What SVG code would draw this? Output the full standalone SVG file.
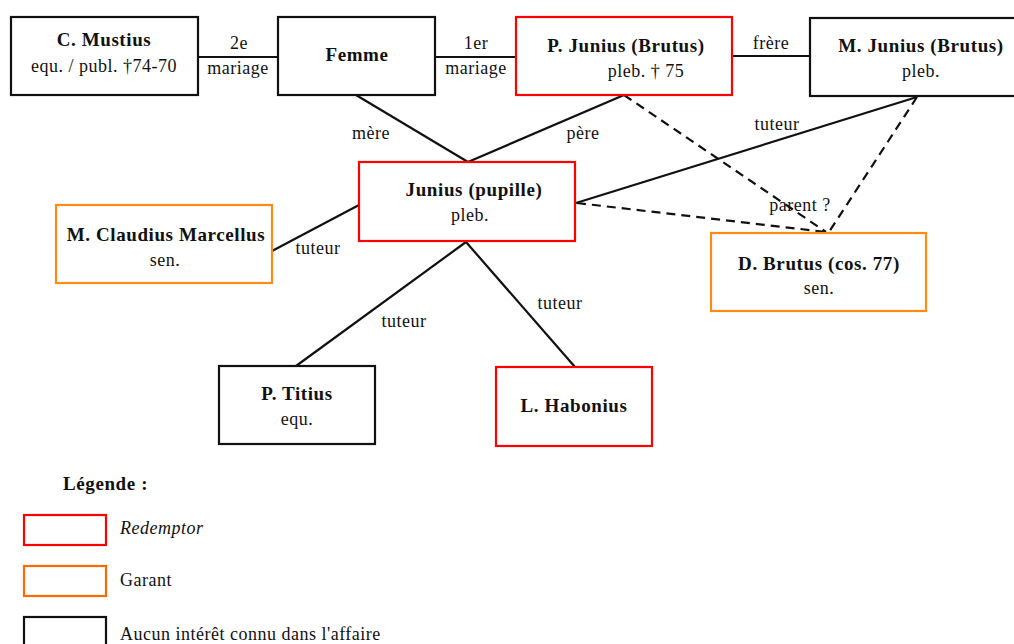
<svg xmlns="http://www.w3.org/2000/svg" width="1014" height="644" viewBox="0 0 1014 644">
<style>
text{font-family:"Liberation Serif","DejaVu Serif",serif;fill:#111;font-size:18px;letter-spacing:0.5px;text-anchor:middle}
.b{font-weight:bold;font-size:19px;letter-spacing:0.6px}
.box{fill:#fff;stroke-width:2.2}
.k{stroke:#111}.r{stroke:#ff0000}.o{stroke:#ff8a14}.lo{stroke:#ff6a00}
.ln{stroke:#111;stroke-width:2.2;fill:none}
.d{stroke-dasharray:9 6}
.st{text-anchor:start}
</style>
<rect width="1014" height="644" fill="#fff"/>
<g id="connectors">
<line class="ln" x1="198" y1="57" x2="278" y2="57"/>
<line class="ln" x1="435" y1="57" x2="516" y2="57"/>
<line class="ln" x1="732" y1="56" x2="810" y2="56"/>
<line class="ln" x1="356" y1="95" x2="468" y2="162"/>
<line class="ln" x1="624" y1="95" x2="468" y2="162"/>
<line class="ln" x1="917" y1="97" x2="576" y2="203"/>
<line class="ln d" x1="624" y1="95" x2="826" y2="232"/>
<line class="ln d" x1="917" y1="97" x2="829" y2="232"/>
<line class="ln d" x1="577" y1="203" x2="826" y2="232"/>
<line class="ln" x1="272" y1="251" x2="359" y2="205"/>
<line class="ln" x1="466" y1="242" x2="296" y2="366"/>
<line class="ln" x1="466" y1="242" x2="575" y2="367"/>
<text x="239" y="49">2e</text>
<text x="238" y="74">mariage</text>
<text x="476" y="49">1er</text>
<text x="476" y="74">mariage</text>
<text x="771" y="49">frère</text>
<text x="371" y="139">mère</text>
<text x="583" y="139">père</text>
<text x="777" y="130">tuteur</text>
<text x="800" y="211">parent ?</text>
<text x="318" y="254">tuteur</text>
<text x="404" y="327">tuteur</text>
<text x="560" y="309">tuteur</text>
</g>
<g id="n-mustius"><rect class="box k" x="11" y="17" width="187" height="78"/><text class="b" x="104" y="46">C. Mustius</text><text x="104" y="72">equ. / publ. †74-70</text></g>
<g id="n-femme"><rect class="box k" x="278" y="17" width="157" height="78"/><text class="b" x="357" y="61">Femme</text></g>
<g id="n-pjunius"><rect class="box r" x="516" y="17" width="216" height="78"/><text class="b" x="626" y="52">P. Junius (Brutus)</text><text x="646" y="77">pleb. † 75</text></g>
<g id="n-mjunius"><rect class="box k" x="810" y="18" width="212" height="78"/><text class="b" x="921" y="52">M. Junius (Brutus)</text><text x="921" y="77">pleb.</text></g>
<g id="n-pupille"><rect class="box r" x="359" y="162" width="216" height="79"/><text class="b" x="474" y="196">Junius (pupille)</text><text x="470" y="221">pleb.</text></g>
<g id="n-marcellus"><rect class="box o" x="56" y="205" width="216" height="78"/><text class="b" x="166" y="241">M. Claudius Marcellus</text><text x="165" y="266">sen.</text></g>
<g id="n-dbrutus"><rect class="box o" x="711" y="233" width="215" height="78"/><text class="b" x="819" y="270">D. Brutus (cos. 77)</text><text x="819" y="294">sen.</text></g>
<g id="n-titius"><rect class="box k" x="219" y="366" width="156" height="78"/><text class="b" x="297" y="400">P. Titius</text><text x="297" y="425">equ.</text></g>
<g id="n-habonius"><rect class="box r" x="496" y="367" width="156" height="79"/><text class="b" x="574" y="412">L. Habonius</text></g>
<g id="legend">
<text class="b st" x="63" y="490">Légende :</text>
<rect class="box r" x="24" y="515" width="82" height="30"/>
<text class="st" x="120" y="534" font-style="italic">Redemptor</text>
<rect class="box lo" x="24" y="566" width="82" height="30"/>
<text class="st" x="120" y="586">Garant</text>
<rect class="box k" x="24" y="617" width="82" height="34"/>
<text class="st" x="120" y="640">Aucun intérêt connu dans l'affaire</text>
</g>
</svg>
